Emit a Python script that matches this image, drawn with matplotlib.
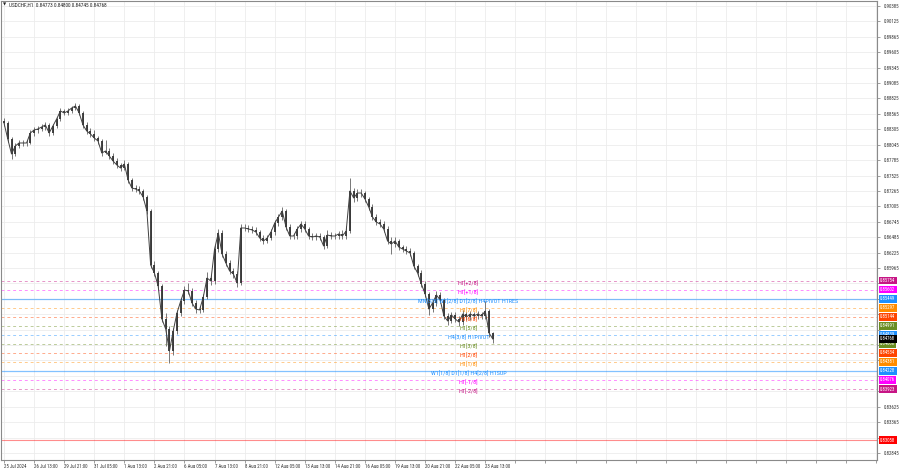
import matplotlib
matplotlib.use("Agg")
import matplotlib.pyplot as plt
import matplotlib.transforms as mtransforms
from matplotlib import font_manager

# ---------------- data (4-hour samples) ----------------
closes = [0.88411, 0.88141, 0.87888, 0.88023, 0.88074, 0.88074, 0.88074, 0.88243, 0.88293, 0.88310,
          0.88344, 0.88378, 0.88243, 0.88361, 0.88479, 0.88614, 0.88580, 0.88614, 0.88664, 0.88698,
          0.88580, 0.88378, 0.88276, 0.88226, 0.88158, 0.88108, 0.87905, 0.87939, 0.87855, 0.87770,
          0.87703, 0.87652, 0.87720, 0.87450, 0.87315, 0.87298, 0.87264, 0.87163, 0.86927, 0.86016,
          0.85881, 0.85661, 0.85105, 0.84936, 0.84565, 0.84902, 0.85206, 0.85408, 0.85594, 0.85577,
          0.85375, 0.85273, 0.85257, 0.85476, 0.85796, 0.85746, 0.86286, 0.86556, 0.86201, 0.86050,
          0.85915, 0.85864, 0.85712, 0.86640, 0.86640, 0.86623, 0.86606, 0.86572, 0.86471, 0.86421,
          0.86471, 0.86572, 0.86724, 0.86826, 0.86927, 0.86657, 0.86505, 0.86505, 0.86623, 0.86707,
          0.86623, 0.86505, 0.86488, 0.86505, 0.86488, 0.86336, 0.86522, 0.86505, 0.86505, 0.86539,
          0.86505, 0.86589, 0.87264, 0.87146, 0.87230, 0.87230, 0.87129, 0.86994, 0.86826, 0.86741,
          0.86707, 0.86623, 0.86421, 0.86370, 0.86421, 0.86319, 0.86286, 0.86252, 0.86218, 0.85999,
          0.85881, 0.85695, 0.85527, 0.85273, 0.85375, 0.85510, 0.85425, 0.85155, 0.85071, 0.85172,
          0.85105, 0.85054, 0.85189, 0.85139, 0.85189, 0.85155, 0.85189, 0.85155, 0.85240, 0.84869,
          0.84767]
first_open = 0.88450
highs = [0.88500, 0.88440, 0.88180, 0.88080, 0.88120, 0.88130, 0.88120, 0.88290, 0.88340, 0.88360,
         0.88400, 0.88430, 0.88410, 0.88400, 0.88520, 0.88660, 0.88650, 0.88660, 0.88700, 0.88750,
         0.88730, 0.88610, 0.88420, 0.88320, 0.88290, 0.88200, 0.88140, 0.88120, 0.87990, 0.87900,
         0.87820, 0.87740, 0.87780, 0.87760, 0.87490, 0.87360, 0.87340, 0.87300, 0.87200, 0.86960,
         0.86080, 0.85920, 0.85700, 0.85200, 0.84990, 0.84960, 0.85260, 0.85460, 0.85660, 0.85720,
         0.85620, 0.85420, 0.85320, 0.85520, 0.85900, 0.85850, 0.86350, 0.86620, 0.86600, 0.86260,
         0.86100, 0.85960, 0.85910, 0.86700, 0.86700, 0.86690, 0.86670, 0.86650, 0.86610, 0.86520,
         0.86520, 0.86620, 0.86780, 0.86880, 0.87000, 0.86960, 0.86700, 0.86560, 0.86680, 0.86760,
         0.86750, 0.86660, 0.86550, 0.86560, 0.86550, 0.86530, 0.86600, 0.86570, 0.86560, 0.86590,
         0.86600, 0.86680, 0.87480, 0.87320, 0.87290, 0.87290, 0.87270, 0.87170, 0.87040, 0.86870,
         0.86800, 0.86760, 0.86670, 0.86480, 0.86480, 0.86460, 0.86360, 0.86330, 0.86300, 0.86260,
         0.86040, 0.85930, 0.85740, 0.85560, 0.85430, 0.85570, 0.85560, 0.85460, 0.85200, 0.85230,
         0.85220, 0.85150, 0.85250, 0.85230, 0.85240, 0.85230, 0.85240, 0.85230, 0.85410, 0.85280,
         0.84880]
lows = [0.88360, 0.88090, 0.87800, 0.87860, 0.87990, 0.88020, 0.88030, 0.88050, 0.88200, 0.88250,
        0.88270, 0.88300, 0.88200, 0.88210, 0.88330, 0.88450, 0.88540, 0.88540, 0.88580, 0.88630,
        0.88540, 0.88330, 0.88230, 0.88180, 0.88110, 0.88060, 0.87850, 0.87880, 0.87810, 0.87720,
        0.87660, 0.87600, 0.87610, 0.87400, 0.87270, 0.87250, 0.87220, 0.87110, 0.86880, 0.85960,
        0.85830, 0.85600, 0.85050, 0.84650, 0.84360, 0.84500, 0.84860, 0.85150, 0.85360, 0.85520,
        0.85320, 0.85200, 0.85200, 0.85220, 0.85440, 0.85680, 0.85700, 0.86240, 0.86150, 0.86000,
        0.85860, 0.85800, 0.85650, 0.85680, 0.86590, 0.86570, 0.86550, 0.86520, 0.86420, 0.86370,
        0.86380, 0.86430, 0.86530, 0.86680, 0.86780, 0.86600, 0.86450, 0.86450, 0.86460, 0.86580,
        0.86570, 0.86450, 0.86430, 0.86440, 0.86430, 0.86280, 0.86300, 0.86460, 0.86450, 0.86460,
        0.86450, 0.86460, 0.86550, 0.87080, 0.87100, 0.87170, 0.87080, 0.86940, 0.86770, 0.86690,
        0.86650, 0.86570, 0.86370, 0.86200, 0.86320, 0.86270, 0.86230, 0.86200, 0.86160, 0.85950,
        0.85830, 0.85640, 0.85470, 0.85180, 0.85230, 0.85330, 0.85370, 0.85100, 0.85000, 0.85030,
        0.85050, 0.84990, 0.85010, 0.85090, 0.85090, 0.85100, 0.85110, 0.85100, 0.85110, 0.84800,
        0.84700]

date_labels = ["25 Jul 2024", "26 Jul 13:00", "29 Jul 21:00", "31 Jul 05:00", "1 Aug 13:00",
               "2 Aug 21:00", "6 Aug 05:00", "7 Aug 13:00", "8 Aug 21:00", "12 Aug 05:00",
               "13 Aug 13:00", "14 Aug 21:00", "16 Aug 05:00", "19 Aug 13:00", "20 Aug 21:00",
               "22 Aug 05:00", "23 Aug 13:00"]
price_ticks = [0.82845, 0.83105, 0.83365, 0.83625, 0.83885, 0.84145, 0.84405, 0.84665, 0.84925,
               0.85185, 0.85445, 0.85705, 0.85965, 0.86225, 0.86485, 0.86745, 0.87005, 0.87265,
               0.87525, 0.87785, 0.88045, 0.88305, 0.88565, 0.88825, 0.89085, 0.89345, 0.89605,
               0.89865, 0.90125, 0.90385]

level_values = [0.85754, 0.85602, 0.85449, 0.85297, 0.85144, 0.84991, 0.84839,
                0.84686, 0.84534, 0.84381, 0.84228, 0.84076, 0.83923]
level_names = ["H1[+2/8]", "H1[+1/8]", "MN[3/8] W1[2/8] D1[2/8] H4PIVOT H1RES", "H1[7/8]",
               "H1[6/8]", "H1[5/8]", "H4[3/8] H1PIVOT", "H1[3/8]", "H1[2/8]", "H1[1/8]",
               "W1[1/8] D1[1/8] H4[2/8] H1SUP", "H1[-1/8]", "H1[-2/8]"]
level_colors = ["#C71585", "#FF00FF", "#1E90FF", "#FF8C00", "#FF4500", "#6B8E23", "#1E90FF",
                "#6B8E23", "#FF4500", "#FF8C00", "#1E90FF", "#FF00FF", "#C71585"]
level_solid = [False, False, True, False, False, False, False,
               False, False, False, True, False, False]
current_price = 0.84768
stop_level = 0.83058
header = "USDCHF,H1  0.84773 0.84800 0.84745 0.84768"

# ---------------- fonts ----------------
available = {f.name for f in font_manager.fontManager.ttflist}
FONT = "Liberation Sans"
scale = 0.82
for cand in ["Liberation Sans Narrow", "Roboto Condensed", "Open Sans Condensed"]:
    if cand in available:
        FONT = cand
        scale = 1.0
        break
FAM = [FONT, "DejaVu Sans"]

# ---------------- figure ----------------
W, H = 900, 468
PLOT_W = 877
fig = plt.figure(figsize=(W / 100, H / 100), dpi=100)
fig.patch.set_facecolor("white")
ax = fig.add_axes([1 / W, 8 / H, (PLOT_W - 1) / W, 459 / H])
ax.set_facecolor("white")

n = len(closes)
xs = list(range(n))
opens = [first_open] + closes[:-1]

px_per_unit = 3.76
ax.set_xlim(-0.8, -0.8 + (PLOT_W - 1) / px_per_unit)
ax.set_ylim(0.82726, 0.904694)
span = 0.904694 - 0.82726

# price boxes (level boxes + current price + stop level)
boxes = list(zip(level_values, level_colors)) + [(current_price, "#000000"), (stop_level, "#FF0000")]
box_vals = [v for v, _ in boxes]

# ticks & grid; axis labels hidden behind the price boxes are left blank
def covered(t):
    return any(abs(t - b) / span * 459 < 5.5 for b in box_vals)

xt = list(range(0, 236, 8))
ax.set_xticks(xt)
ax.set_xticklabels(date_labels + [""] * (len(xt) - len(date_labels)),
                   ha="left", fontsize=3.5 * scale, color="#333333", family=FAM)
ax.set_yticks(price_ticks)
ax.set_yticklabels(["" if covered(v) else f"{v:.5f}" for v in price_ticks],
                   fontsize=3.5 * scale, color="#333333", family=FAM)
ax.yaxis.tick_right()
ax.tick_params(axis="y", length=2, pad=3, width=0.5, color="#777777")
ax.tick_params(axis="x", length=2, pad=1, width=0.5, color="#777777")
ax.grid(True, color="#ececec", lw=0.6, zorder=0)
ax.set_axisbelow(True)
for s in ax.spines.values():
    s.set_color("#8a8a8a")
    s.set_linewidth(0.8)

# level lines
for v, c, solid in zip(level_values, level_colors, level_solid):
    if solid:
        ax.axhline(v, color=c, lw=0.9, alpha=0.55, zorder=1)
    else:
        ax.axhline(v, color=c, lw=0.7, alpha=0.45, dashes=(3, 3), zorder=1)
ax.axhline(stop_level, color="#FF0000", lw=0.8, alpha=0.45, zorder=1)

# candles
ax.vlines(xs, lows, highs, color="#777777", lw=0.7, zorder=3)
body_lo = [min(o, c) for o, c in zip(opens, closes)]
body_hi = [max(o, c) for o, c in zip(opens, closes)]
ax.vlines(xs, body_lo, body_hi, color="#333333", lw=1.3, zorder=4)
ax.plot(xs, closes, color="#404040", lw=0.7, zorder=4)

# level labels
for v, name, c in zip(level_values, level_names, level_colors):
    ax.text(123.5, v, name, color=c, fontsize=4.4 * scale, ha="center", va="top",
            zorder=5, family=FAM)

# price boxes on the right
trans = mtransforms.blended_transform_factory(ax.transAxes, ax.transData)
for v, c in boxes:
    ax.text(1.0 + 3 / PLOT_W, v, f"{v:.5f}", transform=trans, fontsize=3.4 * scale,
            color="white", ha="left", va="center", clip_on=False, zorder=10, family=FAM,
            bbox=dict(boxstyle="square,pad=0.3", fc=c, ec="none"))

# header
ax.text(0.0025, 0.996, "\u25BC", transform=ax.transAxes, fontsize=3.0, color="#222222",
        ha="left", va="top", family=["DejaVu Sans"])
ax.text(0.009, 0.996, header, transform=ax.transAxes, fontsize=3.8 * scale, color="#222222",
        ha="left", va="top", family=FAM)

fig.savefig("out.png", dpi=100, facecolor="white")
